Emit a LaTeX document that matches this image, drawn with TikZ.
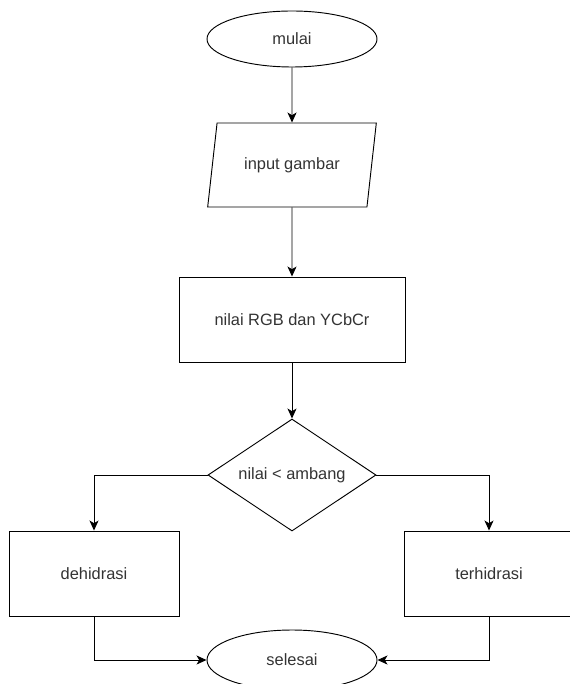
\documentclass[tikz,border=0pt]{standalone}
\usepackage{fontspec}
\setmainfont{Liberation Sans}
\usetikzlibrary{shapes.geometric,arrows.meta}

\tikzset{
    base/.style={draw, line width=0.8pt, inner sep=0pt, text=black!80,
        font=\fontsize{14}{17}\selectfont},
    terminal/.style={base, ellipse, minimum width=5.1cm, minimum height=1.68cm},
    masukan/.style={base, trapezium, trapezium left angle=68.6,
        trapezium right angle=111.4, trapezium stretches=true,
        minimum width=5.1cm, minimum height=2.52cm},
    proses/.style={base, rectangle, minimum width=5.1cm, minimum height=2.55cm},
    keputusan/.style={base, diamond, aspect=1.5, minimum width=5.04cm,
        minimum height=3.36cm},
    panah/.style={line width=0.8pt, -{Stealth[length=3mm, width=2.7mm, inset=0.8mm]}}
}

\begin{document}
\begin{tikzpicture}[x=0.03cm, y=-0.03cm]
    \useasboundingbox (0,0) rectangle (569,684);

    % Mulai
    \node[terminal] (mulai) at (292,39) {mulai};

    % Input
    \node[masukan] (input) at (292,165) {input gambar};

    % Nilai warna
    \node[proses, minimum width=6.78cm] (rgb) at (292,319.5) {nilai RGB dan YCbCr};

    % Keputusan
    \node[keputusan] (cabang) at (292,475) {nilai < ambang};

    % Hasil
    \node[proses] (kiri) at (94,573.5) {dehidrasi};
    \node[proses] (kanan) at (489,573.5) {terhidrasi};

    % Selesai
    \node[terminal, minimum height=1.8cm] (selesai) at (292,660) {selesai};

    % Panah
    \draw[panah] (mulai) -- (input);
    \draw[panah] (input) -- (rgb);
    \draw[panah] (rgb) -- (cabang);
    \draw[panah] (cabang.west) -| (kiri.north);
    \draw[panah] (cabang.east) -| (kanan.north);
    \draw[panah] (kiri.south) |- (selesai.west);
    \draw[panah] (kanan.south) |- (selesai.east);
\end{tikzpicture}
\end{document}
